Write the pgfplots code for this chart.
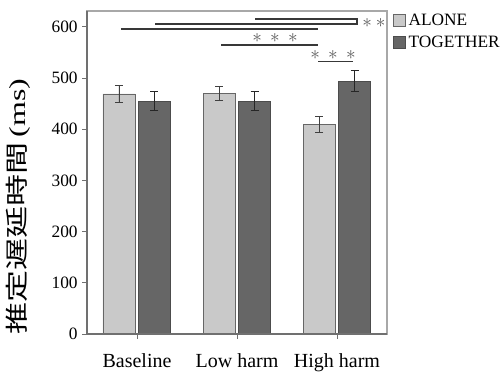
\documentclass[border=0pt]{standalone}
\usepackage{pgfplots}
\pgfplotsset{compat=1.18}
\usepackage{fontspec}
\setmainfont{Liberation Serif}
\newfontfamily\cjk{Noto Sans CJK JP}
\usepackage{graphicx}

\definecolor{alone}{HTML}{C9C9C9}
\definecolor{together}{HTML}{666666}
\definecolor{lightframe}{HTML}{A8A8A8}
\definecolor{darkframe}{HTML}{707070}
\definecolor{sig}{HTML}{383838}
\definecolor{star}{HTML}{5A5A5A}

\begin{document}
\begin{tikzpicture}
\path[use as bounding box] (-65.25pt,-31.5pt) rectangle (309.75pt,250.5pt);
\begin{axis}[
  at={(0pt,0pt)}, anchor=south west,
  scale only axis, width=225pt, height=242.25pt,
  xmin=-0.5, xmax=2.5, ymin=0, ymax=631,
  xtick={0,1,2}, xticklabels={Baseline, Low harm, High harm},
  ytick={0,100,200,300,400,500,600},
  xtick pos=bottom, ytick pos=left,
  tick align=outside, major tick length=3.5pt,
  tick style={darkframe, line width=0.6pt},
  axis line style={lightframe, line width=0.8pt},
  /pgf/number format/assume math mode=true,
  yticklabel style={font=\fontsize{13}{13}\selectfont, xshift=0pt},
  xticklabel style={font=\fontsize{15}{15}\selectfont, yshift=-8pt},
  ylabel={\scalebox{1}[0.72]{\fontsize{24}{24}\selectfont\cjk 推定遅延時間\hspace{4pt}\rmfamily (ms)}},
  ylabel style={at={(axis description cs:-0.23,0.395)}, anchor=center},
  legend style={at={(1,1)}, anchor=north west, xshift=3.5pt, yshift=1pt,
    draw=none, fill=none, inner sep=1pt, row sep=2.5pt,
    font=\fontsize{13}{13}\selectfont},
  legend cell align=left,
  clip=false,
]
\addplot[ybar, bar width=24pt, bar shift=0pt, fill=alone, draw=gray!80!black, line width=0.5pt,
  legend image code/.code={\draw[fill=alone, draw=gray!80!black] (0pt,-4.5pt) rectangle (9pt,4.5pt);},
  error bars/.cd, y dir=both, y explicit,
  error bar style={black!75, line width=0.6pt},
  error mark options={rotate=90, mark size=3pt, black!75, line width=0.6pt}]
  coordinates {(-0.18,469) +- (0,16) (0.82,470) +- (0,14) (1.82,409) +- (0,15.5)};
\addlegendentry{ALONE}
\addplot[ybar, bar width=24pt, bar shift=0pt, fill=together, draw=black!70, line width=0.5pt,
  legend image code/.code={\draw[fill=together, draw=black!70] (0pt,-4.5pt) rectangle (9pt,4.5pt);},
  error bars/.cd, y dir=both, y explicit,
  error bar style={black!85, line width=0.6pt},
  error mark options={rotate=90, mark size=3pt, black!85, line width=0.6pt}]
  coordinates {(0.175,455) +- (0,18) (1.175,455) +- (0,19) (2.175,494) +- (0,20)};
\addlegendentry{TOGETHER}
% darker left and bottom axis lines
\draw[darkframe, line width=0.8pt] (rel axis cs:0,1) -- (rel axis cs:0,0) -- (rel axis cs:1,0);
% significance annotations
\draw[sig, line width=0.9pt] (axis cs:1.18,615.2) -- (axis cs:2.20,615.2) -- (axis cs:2.20,605.5) -- (axis cs:0.18,605.5);
\draw[sig, line width=0.9pt] (axis cs:-0.16,595.7) -- (axis cs:1.81,595.7);
\draw[sig, line width=0.9pt] (axis cs:0.84,564.5) -- (axis cs:1.81,564.5);
\draw[sig, line width=0.9pt] (axis cs:1.81,533) -- (axis cs:2.16,533);
\node[star, font=\fontsize{14}{14}\selectfont, inner sep=0pt] at (axis cs:2.37,608) {$\ast\hspace{3pt}\ast$};
\node[star, font=\fontsize{14}{14}\selectfont, inner sep=0pt] at (axis cs:1.38,578) {$\ast\hspace{3pt}\ast\hspace{3pt}\ast$};
\node[star, font=\fontsize{14}{14}\selectfont, inner sep=0pt] at (axis cs:1.96,545) {$\ast\hspace{3pt}\ast\hspace{3pt}\ast$};
\end{axis}
\end{tikzpicture}
\end{document}
